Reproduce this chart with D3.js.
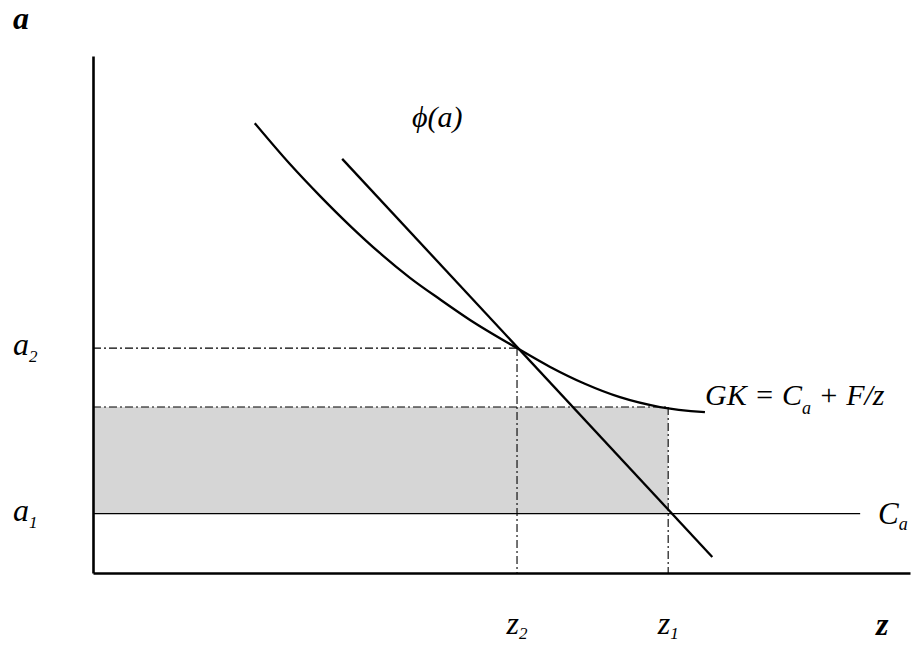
<!DOCTYPE html>
<html>
<head>
<meta charset="utf-8">
<script src="https://cdn.jsdelivr.net/npm/d3@7"></script>
<style>
  html, body { margin: 0; padding: 0; background: #fff; }
  svg { display: block; }
  text { font-family: "Liberation Serif", "DejaVu Serif", serif; font-style: italic; fill: #000; }
</style>
</head>
<body>
<svg id="chart" width="912" height="646"></svg>
<script>
// ---- data (in chart units: z horizontally, a vertically) ----
const zDomain = [0, 10];
const aDomain = [0, 10];

// levels
const a2 = 4.35;        // upper dash-dot level
const aShade = 3.21;    // top of shaded region (GK at z1)
const a1 = 1.15;        // C_a level
const z2 = 5.19;
const z1 = 7.04;
const caEnd = 9.39;     // end of C_a line

// GK = C_a + F/z curve
const gkZ = [1.98, 2.41, 2.78, 3.15, 3.51, 3.88, 4.25, 4.61, 5.19, 5.59, 6.02, 6.45, 6.94, 7.49];
const gkA = [8.70, 7.91, 7.29, 6.71, 6.19, 5.71, 5.29, 4.90, 4.35, 3.99, 3.66, 3.40, 3.21, 3.11];

// phi(a) straight line
const phiZ = [3.05, 7.58];
const phiA = [8.01, 0.31];

// labels
const yLabels = [{v: a2, main: "a", sub: "2"}, {v: a1, main: "a", sub: "1"}];
const xLabels = [{v: z2, main: "z", sub: "2"}, {v: z1, main: "z", sub: "1"}];

// ---- drawing ----
const svg = d3.select("#chart");
const x = d3.scaleLinear().domain(zDomain).range([93, 910]);
const y = d3.scaleLinear().domain(aDomain).range([573, 56]);

const dashDot = "8,3,2,3";

// shaded region
svg.append("rect")
  .attr("x", x(0)).attr("y", y(aShade))
  .attr("width", x(z1) - x(0)).attr("height", y(a1) - y(aShade))
  .attr("fill", "#d6d6d6");

// dash-dot horizontal guides
svg.append("line").attr("x1", x(0)).attr("x2", x(z2)).attr("y1", y(a2)).attr("y2", y(a2))
  .attr("stroke", "#000").attr("stroke-width", 1.1).attr("stroke-dasharray", dashDot);
svg.append("line").attr("x1", x(0)).attr("x2", x(z1)).attr("y1", y(aShade)).attr("y2", y(aShade))
  .attr("stroke", "#000").attr("stroke-width", 1.1).attr("stroke-dasharray", dashDot);
// dash-dot vertical guides
svg.append("line").attr("x1", x(z2)).attr("x2", x(z2)).attr("y1", y(a2)).attr("y2", y(0))
  .attr("stroke", "#000").attr("stroke-width", 1.1).attr("stroke-dasharray", dashDot);
svg.append("line").attr("x1", x(z1)).attr("x2", x(z1)).attr("y1", y(aShade)).attr("y2", y(0))
  .attr("stroke", "#000").attr("stroke-width", 1.1).attr("stroke-dasharray", dashDot);

// C_a line
svg.append("line").attr("x1", x(0)).attr("x2", x(caEnd)).attr("y1", y(a1)).attr("y2", y(a1))
  .attr("stroke", "#000").attr("stroke-width", 1.3);

// GK curve
const gkPts = gkZ.map((z, i) => [z, gkA[i]]);
svg.append("path")
  .datum(gkPts)
  .attr("d", d3.line().x(d => x(d[0])).y(d => y(d[1])).curve(d3.curveMonotoneX))
  .attr("fill", "none").attr("stroke", "#000").attr("stroke-width", 2.3);

// phi line
const phiPts = phiZ.map((z, i) => [z, phiA[i]]);
svg.append("path")
  .datum(phiPts)
  .attr("d", d3.line().x(d => x(d[0])).y(d => y(d[1])))
  .attr("fill", "none").attr("stroke", "#000").attr("stroke-width", 2.3);

// axes (domain lines only)
const xAxis = svg.append("g").attr("transform", `translate(0,${y(0)})`)
  .call(d3.axisBottom(x).tickValues([]).tickSizeOuter(0));
const yAxis = svg.append("g").attr("transform", `translate(${x(0)},0)`)
  .call(d3.axisLeft(y).tickValues([]).tickSizeOuter(0));
[xAxis, yAxis].forEach(g => g.select(".domain").attr("stroke", "#000").attr("stroke-width", 2.6));

// axis titles
svg.append("text").attr("x", 13).attr("y", 29)
  .attr("font-size", 32).attr("font-weight", "bold").text("a");
svg.append("text").attr("x", 876).attr("y", 635)
  .attr("font-size", 32).attr("font-weight", "bold").text("z");

// y labels
yLabels.forEach(d => {
  const t = svg.append("text").attr("x", 13).attr("y", y(d.v) + 7).attr("font-size", 32);
  t.append("tspan").text(d.main);
  t.append("tspan").attr("font-size", 17).attr("dy", 7).text(d.sub);
});

// x labels
xLabels.forEach(d => {
  const t = svg.append("text").attr("x", x(d.v)).attr("y", 634)
    .attr("font-size", 32).attr("text-anchor", "middle");
  t.append("tspan").text(d.main);
  t.append("tspan").attr("font-size", 17).attr("dy", 5).text(d.sub);
});

// phi(a) label
svg.append("text").attr("x", 412).attr("y", 127).attr("font-size", 30)
  .text("\u03D5(a)");

// GK label
const gk = svg.append("text").attr("x", 705).attr("y", 405).attr("font-size", 30);
gk.append("tspan").text("GK = C");
gk.append("tspan").attr("font-size", 18).attr("dy", 9).text("a");
gk.append("tspan").attr("dy", -9).text(" + F/z");

// C_a label
const ca = svg.append("text").attr("x", 878).attr("y", 524).attr("font-size", 31);
ca.append("tspan").text("C");
ca.append("tspan").attr("font-size", 18).attr("dy", 6).text("a");
</script>
</body>
</html>
